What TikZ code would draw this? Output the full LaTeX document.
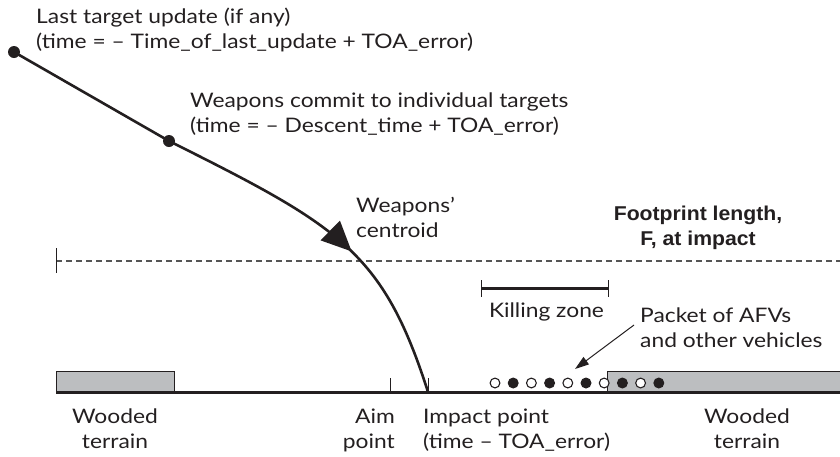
\documentclass[tikz,border=0pt]{standalone}
\usepackage{fontspec}
\setmainfont{Lato}[FakeStretch=1.14]
\newfontfamily\headfont{Liberation Sans}[FakeStretch=1.06]
\usetikzlibrary{arrows.meta,decorations.markings}
\definecolor{ink}{HTML}{231F20}
\definecolor{woods}{HTML}{BCBEC0}
\definecolor{dashgray}{HTML}{555555}
\begin{document}
\begin{tikzpicture}[x=1pt,y=-1pt,
  lbl/.style={font=\fontsize{20}{25.5}\selectfont, text=ink, inner sep=0pt},
  headlbl/.style={font=\headfont\bfseries\fontsize{20}{25}\selectfont, text=ink, inner sep=0pt, align=center},
  dot/.style={circle, fill=ink, minimum size=12pt, inner sep=0pt},
  vehicle/.style={circle, draw=ink, line width=1.1pt, minimum size=9.8pt, inner sep=0pt},
  fullveh/.style={vehicle, fill=ink},
  openveh/.style={vehicle, fill=white},
  woodland/.style={fill=woods, draw=ink, line width=0.9pt},
  thin/.style={draw=ink, line width=1pt},
  trajectory/.style={draw=ink, line width=2.6pt},
  centroidmark/.style={postaction={decorate}, decoration={markings,
      mark=at position 0.57 with {\arrow[ink]{Triangle[length=30pt,width=27pt]}}}}
]
\useasboundingbox (0,0) rectangle (840,456);

% terrain: wooded patches and ground line
\draw[woodland] (56,371) rectangle (174,392.5);
\draw[woodland] (607,371) rectangle (841,392.5);
\draw[ink, line width=3.4pt] (56,392.5) -- (840,392.5);

% footprint length at impact (dashed) with its left end mark
\coordinate (fpL) at (56,261);
\coordinate (fpR) at (840,261);
\draw[dashgray, line width=1.2pt, dash pattern=on 6pt off 4pt] (fpL) -- (fpR);
\draw[thin] (56,248) -- (56,273);

% killing zone bar
\coordinate (kzL) at (481,288);
\coordinate (kzR) at (608,288);
\draw[ink, line width=3pt] (kzL) -- (kzR);
\draw[thin] (481,280) -- (481,297);
\draw[thin] (608,280) -- (608,297);

% aim point and impact point marks
\coordinate (aim) at (390,392);
\coordinate (impact) at (428,392);
\draw[thin] (390,378) -- (aim);
\draw[thin] (428,378) -- (impact);

% weapon trajectory
\node[dot] (upd) at (14,52) {};
\node[dot] (commit) at (169,141) {};
\draw[trajectory] (upd.center) -- (commit.center);
\draw[trajectory, centroidmark] (commit.center) .. controls (339,226) and (383,251) .. (impact);

% packet of vehicles
\foreach \i/\s in {0/openveh,1/fullveh,2/openveh,3/fullveh,4/openveh,5/fullveh,6/openveh,7/fullveh,8/openveh,9/fullveh}
  \node[\s] (v\i) at ({495+18.2*\i},383) {};

% labels (a two-line node's base anchor sits on its second line)
\node[lbl, anchor=base west, align=left] (updlbl) at (36,48.5)
  {Last target update (if any)\\(time = – Time\_of\_last\_update + TOA\_error)};
\node[lbl, anchor=base west, align=left] (commitlbl) at (190,132.5)
  {Weapons commit to individual targets\\(time = – Descent\_time + TOA\_error)};
\node[lbl, anchor=base west, align=left] (centroidlbl) at (356,237.5)
  {Weapons’\\centroid};
\node[headlbl, anchor=base] (fplbl) at (698,245)
  {Footprint length,\\F, at impact};
\node[lbl, anchor=base] (kzlbl) at (546.5,317) {Killing zone};
\node[lbl, anchor=base west, align=left] (packetlbl) at (640,347.5)
  {Packet of AFVs\\and other vehicles};
\node[lbl, anchor=base, align=center] (woodL) at (115,448.5) {Wooded\\terrain};
\node[lbl, anchor=base east, align=right] (aimlbl) at (395,448.5) {Aim\\point};
\node[lbl, anchor=base west, align=left] (impactlbl) at (423,448.5)
  {Impact point\\(time – TOA\_error)};
\node[lbl, anchor=base, align=center] (woodR) at (747,448.5) {Wooded\\terrain};

% pointer to the packet
\coordinate (packetfrom) at (634,325);
\draw[ink, line width=1pt, -{Triangle[length=14pt,width=9pt]}] (packetfrom) -- (575,369);
\end{tikzpicture}
\end{document}
